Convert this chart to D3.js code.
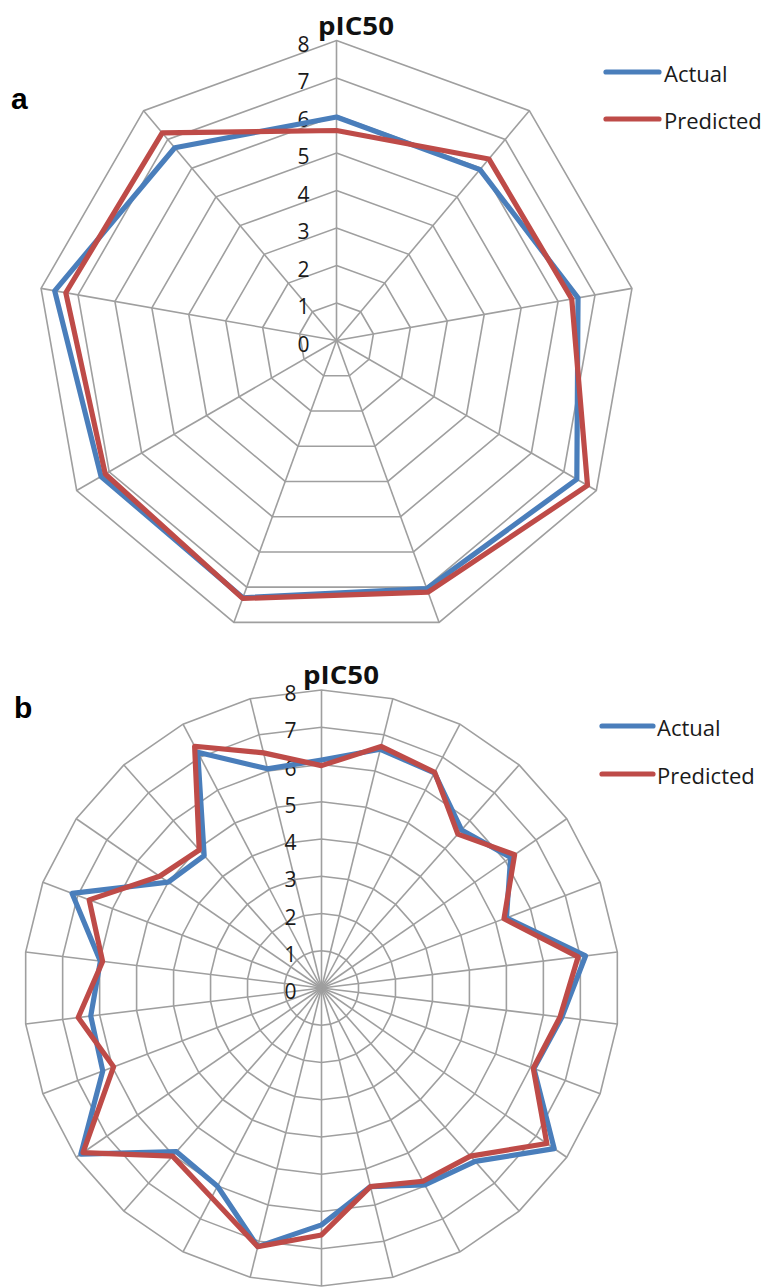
<!DOCTYPE html>
<html><head><meta charset="utf-8">
<script src="https://cdn.jsdelivr.net/npm/d3@7/dist/d3.min.js"></script>
<style>body{margin:0;background:#fff} svg{display:block}</style>
</head><body>
<svg id="c" width="768" height="1287"></svg>
<script>
// ---- data ----
const seriesNames = ["Actual", "Predicted"];
const tickValues = [0, 1, 2, 3, 4, 5, 6, 7, 8];
const axisTitle = "pIC50";
const panelLabels = ["a", "b"];

// panel a : 9 compounds
const aCategories = ["1","2","3","4","5","6","7","8","9"];
const aActual    = [5.96, 5.95, 6.54, 7.40, 7.04, 7.30, 7.25, 7.63, 6.71];
const aPredicted = [5.60, 6.32, 6.37, 7.73, 7.14, 7.32, 7.12, 7.33, 7.23];

// panel b : 26 compounds
const bCategories = ["1","2","3","4","5","6","7","8","9","10","11","12","13",
                     "14","15","16","17","18","19","20","21","22","23","24","25","26"];
const bActual    = [6.12, 6.60, 6.52, 5.67, 6.17, 5.31, 7.14, 6.50, 6.10, 7.59, 6.22, 5.97, 5.49,
                    6.36, 7.15, 6.01, 5.87, 7.85, 6.28, 6.24, 5.98, 7.16, 5.00, 4.75, 7.15, 6.06];
const bPredicted = [5.97, 6.68, 6.54, 5.52, 6.30, 5.24, 6.94, 6.45, 6.08, 7.35, 6.03, 5.86, 5.49,
                    6.63, 7.15, 6.35, 6.03, 7.78, 5.97, 6.58, 5.92, 6.67, 5.28, 4.95, 7.33, 6.50];

// ---- styles ----
const colors = ["#4a7ebb", "#be4b48"];
const gridColor = "#9f9f9f";
const textColor = "#1a1a1a";

const svg = d3.select("#c");

function radar(cfg) {
  const {cx, cy, R, cats, series, legend, label} = cfg;
  const g = svg.append("g").attr("transform", `translate(${cx},${cy})`);
  const r = d3.scaleLinear().domain([0, 8]).range([0, R]);
  const a = d3.scaleLinear().domain([0, cats.length]).range([0, 2 * Math.PI]);

  // rings
  const ringLine = d3.lineRadial().angle((d, i) => a(i)).radius(d => r(d)).curve(d3.curveLinearClosed);
  tickValues.filter(t => t > 0).forEach(t => {
    g.append("path").attr("d", ringLine(cats.map(() => t)))
      .attr("fill", "none").attr("stroke", gridColor).attr("stroke-width", 1.6);
  });
  // spokes
  g.selectAll("line.spoke").data(cats).enter().append("line")
    .attr("x1", 0).attr("y1", 0)
    .attr("x2", (d, i) => r(8) * Math.sin(a(i)))
    .attr("y2", (d, i) => -r(8) * Math.cos(a(i)))
    .attr("stroke", gridColor).attr("stroke-width", 1.6);

  // tick labels
  g.selectAll("text.tick").data(tickValues).enter().append("text")
    .attr("x", cfg.tickDx).attr("y", d => -r(d) + 3)
    .attr("text-anchor", "middle").attr("dominant-baseline", "central")
    .attr("font-family", "'Open Sans', sans-serif").attr("font-size", 21)
    .attr("fill", textColor).text(d => d);

  // title
  g.append("text").attr("x", -18.5).attr("y", -R - 6)
    .attr("font-family", "'Open Sans', sans-serif").attr("font-weight", "bold")
    .attr("font-size", 25).attr("textLength", 76).attr("lengthAdjust", "spacingAndGlyphs")
    .attr("fill", "#111").text(axisTitle);

  // series
  const line = d3.lineRadial().angle((d, i) => a(i)).radius(d => r(d)).curve(d3.curveLinearClosed);
  series.forEach((s, k) => {
    g.append("path").attr("d", line(s)).attr("fill", "none")
      .attr("stroke", colors[k]).attr("stroke-width", 5.2).attr("stroke-linejoin", "round");
  });

  // legend
  seriesNames.forEach((n, k) => {
    const y = legend.y[k];
    svg.append("line").attr("x1", legend.x1).attr("x2", legend.x2).attr("y1", y).attr("y2", y)
      .attr("stroke", colors[k]).attr("stroke-width", 5.2).attr("stroke-linecap", "round");
    svg.append("text").attr("x", legend.tx).attr("y", y + 0.5).attr("dominant-baseline", "central")
      .attr("font-family", "'Open Sans', sans-serif").attr("font-size", 22)
      .attr("fill", textColor).text(n);
  });

  // panel label
  svg.append("text").attr("x", label.x).attr("y", label.y)
    .attr("font-family", "'Liberation Sans', Arial, sans-serif").attr("font-weight", "bold")
    .attr("font-size", 30).attr("fill", "#000").text(label.t);
}

radar({cx: 336.5, cy: 340.5, R: 300, cats: aCategories, series: [aActual, aPredicted], tickDx: -33,
       legend: {x1: 606, x2: 659, tx: 664, y: [72, 119]}, label: {x: 11, y: 109, t: panelLabels[0]}});
radar({cx: 321.5, cy: 988, R: 298, cats: bCategories, series: [bActual, bPredicted], tickDx: -31,
       legend: {x1: 602, x2: 653, tx: 657, y: [726, 774]}, label: {x: 14, y: 718, t: panelLabels[1]}});
</script>
</body></html>
